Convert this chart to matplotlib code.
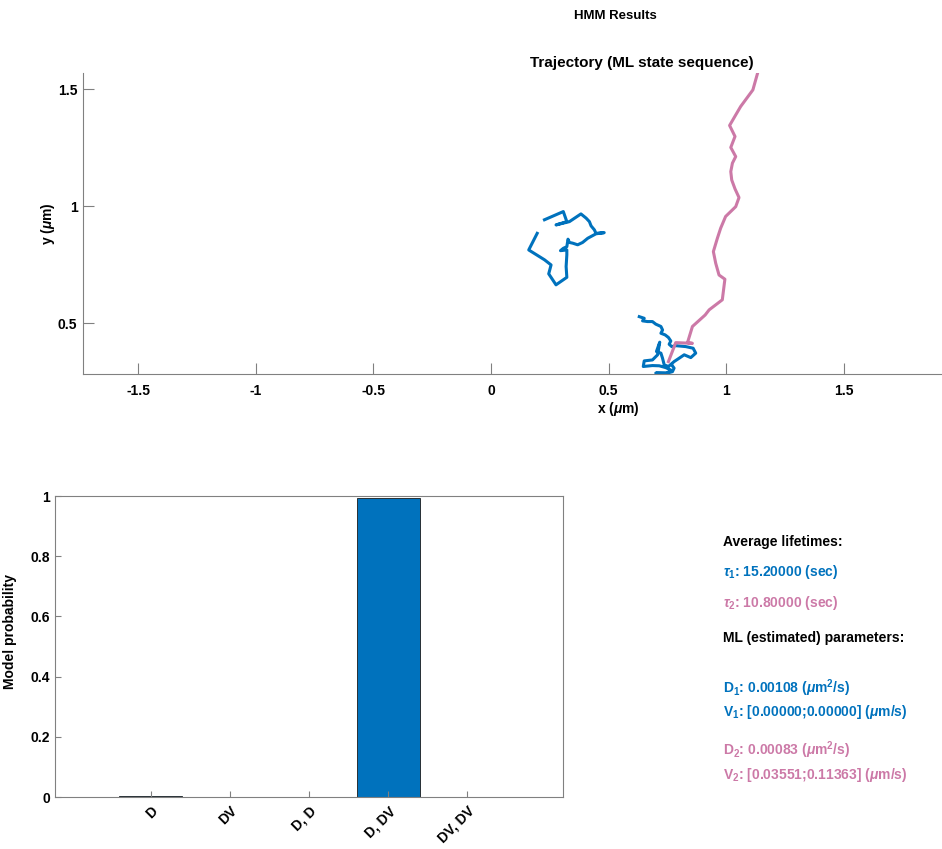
import matplotlib
matplotlib.use('Agg')
import matplotlib.pyplot as plt
import numpy as np

plt.rcParams['font.family'] = ['Liberation Sans', 'DejaVu Sans']
plt.rcParams['font.weight'] = 'bold'
plt.rcParams['mathtext.fontset'] = 'custom'
plt.rcParams['mathtext.rm'] = 'Liberation Sans:bold'
plt.rcParams['mathtext.bf'] = 'Liberation Sans:bold'
plt.rcParams['mathtext.it'] = 'Liberation Sans:italic:bold'

BLUE = '#0072BD'
PINK = '#CC79A7'

# trajectory segments (um)
blue1_x = [0.196, 0.160, 0.227, 0.255, 0.245, 0.276, 0.322, 0.319, 0.322, 0.322, 0.295,
           0.307, 0.322, 0.327, 0.333, 0.347, 0.368, 0.389, 0.411, 0.446, 0.481, 0.446,
           0.439, 0.425, 0.418, 0.404, 0.382, 0.333, 0.276, 0.322, 0.307, 0.227]
blue1_y = [0.884, 0.813, 0.771, 0.749, 0.711, 0.664, 0.696, 0.742, 0.792, 0.813, 0.810,
           0.820, 0.827, 0.859, 0.845, 0.842, 0.835, 0.845, 0.863, 0.882, 0.887, 0.884,
           0.899, 0.916, 0.934, 0.949, 0.967, 0.934, 0.920, 0.934, 0.977, 0.942]

blue2_x = [0.630, 0.651, 0.644, 0.665, 0.686, 0.700, 0.722, 0.729, 0.722, 0.740, 0.754,
           0.764, 0.757, 0.768, 0.785, 0.828, 0.859, 0.870, 0.849, 0.821, 0.799, 0.778,
           0.754, 0.736, 0.729, 0.722, 0.703, 0.717, 0.708, 0.686, 0.651, 0.647, 0.686,
           0.715, 0.743, 0.764, 0.750, 0.700, 0.743, 0.771, 0.778, 0.768]
blue2_y = [0.528, 0.521, 0.510, 0.507, 0.507, 0.496, 0.486, 0.471, 0.457, 0.450, 0.439,
           0.424, 0.410, 0.400, 0.404, 0.400, 0.393, 0.372, 0.353, 0.365, 0.350, 0.336,
           0.315, 0.322, 0.350, 0.372, 0.379, 0.419, 0.365, 0.343, 0.339, 0.315, 0.319,
           0.318, 0.310, 0.300, 0.288, 0.287, 0.285, 0.293, 0.308, 0.322]

pink_x = [0.754, 0.785, 0.856, 0.835, 0.856, 0.910, 0.927, 0.983, 0.994, 0.969, 0.955,
          0.945, 0.962, 0.976, 0.997, 1.040, 1.054, 1.037, 1.023, 1.019, 1.026, 1.040,
          1.019, 1.037, 1.014, 1.040, 1.061, 1.113, 1.132]
pink_y = [0.336, 0.417, 0.414, 0.417, 0.486, 0.535, 0.557, 0.600, 0.688, 0.706, 0.756,
          0.806, 0.863, 0.906, 0.956, 0.998, 1.037, 1.074, 1.112, 1.148, 1.184, 1.212,
          1.251, 1.298, 1.345, 1.390, 1.426, 1.497, 1.565]

# model probabilities
models = ['D', 'DV', 'D, D', 'D, DV', 'DV, DV']
model_prob = [0.005, 0.0, 0.0, 0.995, 0.0]

tau = [15.2, 10.8]
D_est = [0.00108, 0.00083]
V_est = [[0.0, 0.0], [0.03551, 0.11363]]

fig = plt.figure(figsize=(9.42, 8.49), dpi=100)

#Trajectory axes
ax1 = fig.add_axes([0.0881, 0.5595, 0.9119, 0.3542])
ax1.plot(blue1_x, blue1_y, color=BLUE, lw=2.2)
ax1.plot(blue2_x, blue2_y, color=BLUE, lw=2.2)
ax1.plot(pink_x, pink_y, color=PINK, lw=2.2)
ax1.set_xlim(-1.735, 1.917)
ax1.set_ylim(0.283, 1.568)
ax1.set_xticks([-1.5, -1, -0.5, 0, 0.5, 1, 1.5])
ax1.set_xticklabels(['-1.5', '-1', '-0.5', '0', '0.5', '1', '1.5'])
ax1.set_yticks([0.5, 1, 1.5])
ax1.set_yticklabels(['0.5', '1', '1.5'])
ax1.spines['top'].set_visible(False)
ax1.spines['right'].set_visible(False)
for s in ['left', 'bottom']:
    ax1.spines[s].set_color('#808080')
    ax1.spines[s].set_linewidth(0.8)
ax1.tick_params(direction='in', length=8, width=0.8, color='#808080', labelsize=10)
ax1.tick_params(axis='x', pad=7)
ax1.tick_params(axis='y', pad=4)
ax1.set_xlabel(r'x ($\mu$m)', fontsize=10, fontweight='bold')
ax1.xaxis.set_label_coords(0.623, -0.085)
ax1.set_ylabel(r'y ($\mu$m)', fontsize=10, fontweight='bold')
ax1.yaxis.set_label_coords(-0.03, 0.5)
ax1.text(0.651, 1.01, 'Trajectory (ML state sequence)', transform=ax1.transAxes,
         ha='center', va='bottom', fontsize=11, fontweight='bold')

fig.text(615 / 942, 1 - 16 / 849, 'HMM Results', ha='center', va='center',
         fontsize=9.5, fontweight='bold')

#Model probability bars
ax2 = fig.add_axes([0.0584, 0.0612, 0.5393, 0.3545])
pos = np.arange(1, len(models) + 1)
ax2.bar(pos, model_prob, width=0.8, color=BLUE, edgecolor='#1a1a1a', linewidth=0.6)
ax2.set_xlim(-0.21, 6.21)
ax2.set_ylim(0, 1)
ax2.set_xticks(pos)
ax2.set_xticklabels(models, rotation=45, ha='right', rotation_mode='anchor', fontsize=10)
ax2.set_yticks([0, 0.2, 0.4, 0.6, 0.8, 1])
ax2.set_yticklabels(['0', '0.2', '0.4', '0.6', '0.8', '1'])
for s in ax2.spines.values():
    s.set_color('#808080')
    s.set_linewidth(0.8)
ax2.tick_params(direction='in', length=4, width=0.8, color='#808080', labelsize=10)
ax2.tick_params(axis='x', pad=5)
ax2.set_ylabel('Model probability', fontsize=10, fontweight='bold')
ax2.yaxis.set_label_coords(-0.074, 0.55)

#Text summary
tx = 723 / 942
def fy(py):
    return 1 - py / 849

fig.text(tx, fy(542), 'Average lifetimes:', fontsize=10, fontweight='bold', va='center')
fig.text(tx, fy(572), r'$\tau_1$: %.5f (sec)' % tau[0], fontsize=10, fontweight='bold',
         va='center', color=BLUE)
fig.text(tx, fy(603), r'$\tau_2$: %.5f (sec)' % tau[1], fontsize=10, fontweight='bold',
         va='center', color=PINK)
fig.text(tx, fy(638), 'ML (estimated) parameters:', fontsize=10, fontweight='bold', va='center')
fig.text(tx, fy(688), r'D$_1$: %.5f ($\mu$m$^2$/s)' % D_est[0], fontsize=10,
         fontweight='bold', va='center', color=BLUE)
fig.text(tx, fy(712), r'V$_1$: [%.5f;%.5f] ($\mu$m/s)' % (V_est[0][0], V_est[0][1]),
         fontsize=10, fontweight='bold', va='center', color=BLUE)
fig.text(tx, fy(750), r'D$_2$: %.5f ($\mu$m$^2$/s)' % D_est[1], fontsize=10,
         fontweight='bold', va='center', color=PINK)
fig.text(tx, fy(775), r'V$_2$: [%.5f;%.5f] ($\mu$m/s)' % (V_est[1][0], V_est[1][1]),
         fontsize=10, fontweight='bold', va='center', color=PINK)

fig.savefig('out.png', dpi=100)
